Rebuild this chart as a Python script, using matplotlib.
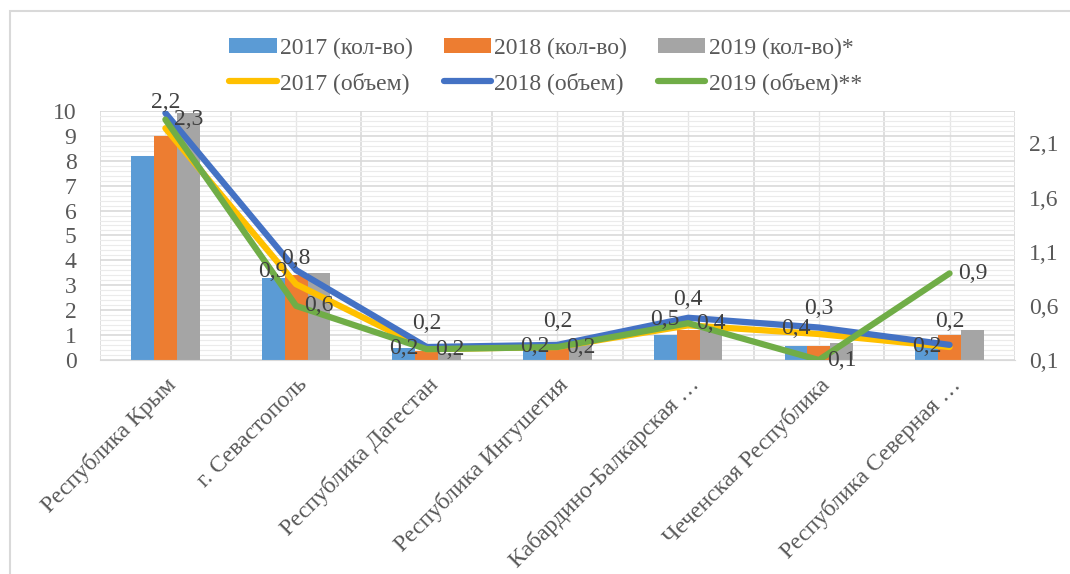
import matplotlib.pyplot as plt
from matplotlib.patches import Rectangle
import numpy as np

plt.rcParams['font.family'] = ['Liberation Serif', 'DejaVu Serif']

regions = ['Республика Крым', 'г. Севастополь', 'Республика Дагестан',
           'Республика Ингушетия', 'Кабардино-Балкарская …',
           'Чеченская Республика', 'Республика Северная …']

# counts (left axis)
count_2017 = [8.2, 3.3, 0.5, 0.5, 1.0, 0.55, 0.6]
count_2018 = [9.0, 3.4, 0.35, 0.5, 1.2, 0.55, 1.0]
count_2019 = [9.9, 3.5, 0.3, 0.6, 1.2, 0.7, 1.2]

# volume (right axis)
vol_2017 = [2.24, 0.8, 0.2, 0.22, 0.42, 0.34, 0.22]
vol_2018 = [2.38, 0.93, 0.22, 0.24, 0.49, 0.4, 0.24]
vol_2019 = [2.32, 0.6, 0.2, 0.22, 0.44, 0.1, 0.9]

text_col = '#595959'
label_col = '#404040'
fs = 17

fig = plt.figure(figsize=(10.7, 5.74), dpi=100)
ax = fig.add_axes([0.0935, 0.3728, 0.855, 0.434])
ax2 = ax.twinx()

x = np.arange(len(regions))
w = 0.175
b1 = ax.bar(x - w, count_2017, w, color='#5B9BD5', label='2017 (кол-во)', zorder=2)
b2 = ax.bar(x, count_2018, w, color='#ED7D31', label='2018 (кол-во)', zorder=2)
b3 = ax.bar(x + w, count_2019, w, color='#A5A5A5', label='2019 (кол-во)*', zorder=2)

l1, = ax2.plot(x, vol_2017, color='#FFC000', lw=4.5, label='2017 (объем)', solid_capstyle='round')
l2, = ax2.plot(x, vol_2018, color='#4472C4', lw=4.5, label='2018 (объем)', solid_capstyle='round')
l3, = ax2.plot(x, vol_2019, color='#70AD47', lw=4.5, label='2019 (объем)**', solid_capstyle='round')


def fmt(v):
    return f'{v:.1f}'.replace('.', ',')


# data labels: 2018 left, 2017 above, 2019 right
for i in range(len(regions)):
    if i > 0:
        ax2.annotate(fmt(vol_2018[i]), (x[i], vol_2018[i]), xytext=(-6, -1),
                     textcoords='offset points', ha='right', va='center',
                     fontsize=fs, color=label_col)
    ax2.annotate(fmt(vol_2017[i]), (x[i], vol_2017[i]), xytext=(0, 11),
                 textcoords='offset points', ha='center', va='bottom',
                 fontsize=fs, color=label_col)
    ax2.annotate(fmt(vol_2019[i]), (x[i], vol_2019[i]), xytext=(6, 0),
                 textcoords='offset points', ha='left', va='center',
                 fontsize=fs, color=label_col)

ax.set_xlim(-0.5, len(regions) - 0.5)
ax.set_ylim(0, 10)
ax.set_yticks(range(0, 11))
ax2.set_ylim(0.1, 2.4)
ax2.set_yticks([0.1, 0.6, 1.1, 1.6, 2.1])
ax2.set_yticklabels([fmt(v) for v in [0.1, 0.6, 1.1, 1.6, 2.1]])

# gridlines
ax.set_yticks(np.arange(0, 10, 0.2), minor=True)
ax.grid(axis='y', which='minor', color='#EBEBEB', lw=0.8, zorder=0)
ax.grid(axis='y', which='major', color='#D9D9D9', lw=1.2, zorder=0)
for b in np.arange(-0.5, len(regions), 1.0):
    ax.axvline(b, color='#D9D9D9', lw=1.2, zorder=0)
for c in x:
    ax.axvline(c, color='#E6E6E6', lw=1.0, zorder=0)

ax.set_xticks(x)
ax.set_xticklabels(regions, rotation=45, ha='right', rotation_mode='anchor',
                   fontsize=fs, color=text_col)
ax.tick_params(axis='x', length=0, pad=10)
ax.tick_params(axis='y', which='both', length=0, labelsize=fs, labelcolor=text_col, pad=17)
ax2.tick_params(axis='y', length=0, labelsize=fs, labelcolor=text_col, pad=10)
for a in (ax, ax2):
    for s in a.spines.values():
        s.set_visible(False)
ax.spines['bottom'].set_visible(True)
ax.spines['bottom'].set_color('#D9D9D9')
ax.set_axisbelow(True)

handles = [b1, l1, b2, l2, b3, l3]
fig.legend(handles, [h.get_label() for h in handles], ncol=3, loc='center',
           bbox_to_anchor=(0.51, 0.885), frameon=False, fontsize=fs,
           handlelength=2.0, handleheight=0.6, columnspacing=1.3,
           handletextpad=0.15, labelspacing=0.55, labelcolor=text_col)

fig.patches.append(Rectangle((10 / 1070, -0.1), 1.2, 1 - 11 / 574 + 0.1,
                             transform=fig.transFigure, fill=False,
                             edgecolor='#D9D9D9', lw=1.5))

fig.savefig('out.png', dpi=100)
